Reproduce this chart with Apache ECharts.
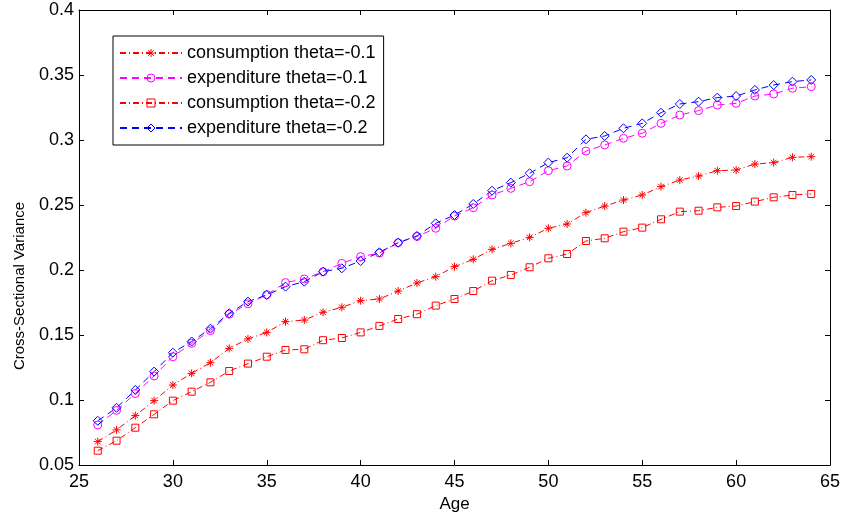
<!DOCTYPE html>
<html>
<head>
<meta charset="utf-8">
<script src="https://cdn.jsdelivr.net/npm/echarts@6/dist/echarts.min.js"></script>
<style>
html,body{margin:0;padding:0;background:#fff;}
#c{width:844px;height:521px;}
</style>
</head>
<body>
<div id="c"></div>
<script>
var ages = [26,27,28,29,30,31,32,33,34,35,36,37,38,39,40,41,42,43,44,45,46,47,48,49,50,51,52,53,54,55,56,57,58,59,60,61,62,63,64];
var consumption01 = [0.068,0.077,0.088,0.0995,0.1115,0.1205,0.1287,0.1397,0.147,0.152,0.1603,0.1615,0.1675,0.1713,0.1764,0.1777,0.1838,0.19,0.1949,0.2026,0.2082,0.2159,0.2205,0.2251,0.2321,0.2354,0.2441,0.2492,0.2538,0.2577,0.2641,0.2692,0.2723,0.2764,0.2769,0.2815,0.2826,0.2867,0.2872];
var expenditure01 = [0.0808,0.092,0.105,0.1185,0.1333,0.1436,0.1533,0.166,0.174,0.181,0.1903,0.1931,0.1987,0.2051,0.2103,0.213,0.221,0.2258,0.2321,0.2415,0.2479,0.2577,0.2628,0.2679,0.2764,0.28,0.2915,0.2962,0.3013,0.3052,0.3128,0.3192,0.3226,0.3269,0.3282,0.3338,0.3354,0.3398,0.341];
var consumption02 = [0.061,0.0687,0.0787,0.089,0.0995,0.1064,0.1136,0.1223,0.128,0.1333,0.1385,0.139,0.146,0.1477,0.152,0.157,0.1623,0.166,0.1726,0.1777,0.1838,0.1918,0.1962,0.2021,0.209,0.2123,0.2223,0.2244,0.2295,0.2326,0.239,0.2449,0.2456,0.2482,0.2492,0.2526,0.2559,0.2577,0.2585];
var expenditure02 = [0.084,0.094,0.1077,0.1218,0.1364,0.145,0.1549,0.1667,0.1757,0.1808,0.1872,0.191,0.1987,0.2013,0.2069,0.2136,0.221,0.2262,0.2359,0.2423,0.2508,0.261,0.2672,0.2744,0.2826,0.2864,0.3005,0.3031,0.309,0.3128,0.321,0.3277,0.3295,0.3326,0.3338,0.3385,0.3423,0.3449,0.3462];
var seriesNames = ['consumption theta=-0.1','expenditure theta=-0.1','consumption theta=-0.2','expenditure theta=-0.2'];
var xLabel = 'Age';
var yLabel = 'Cross-Sectional Variance';

function pairs(vals){ return ages.map(function(a,i){ return [a, vals[i]]; }); }

var FONT = '"Liberation Sans", Arial, Helvetica, sans-serif';
var starPath = 'path://M0,-10L0,10M-10,0L10,0M-7,-7L7,7M-7,7L7,-7';
var dashDot = [6,3,1,3];
var dashed = [7,5];

function mk(name, vals, color, symbol, size, dash, filled){
  return {
    name: name, type: 'line', data: pairs(vals),
    symbol: symbol, symbolSize: size, showSymbol: true,
    lineStyle: {color: color, width: 1, type: dash},
    itemStyle: {color: filled ? color : 'rgba(255,255,255,0)', borderColor: color, borderWidth: 1},
    emphasis: {disabled: true},
    animation: false
  };
}

var chart = echarts.init(document.getElementById('c'), null, {renderer: 'canvas'});
var axisCommon = {
  axisLine: {show: true, lineStyle: {color: '#000', width: 1}},
  axisTick: {show: true, inside: true, length: 5, lineStyle: {color: '#000'}},
  splitLine: {show: false}
};
chart.setOption({
  backgroundColor: '#fff',
  animation: false,
  grid: {left: 79, top: 10, right: 14, bottom: 56, containLabel: false},
  legend: {
    orient: 'vertical', left: 113, top: 36,
    data: seriesNames,
    backgroundColor: '#fff', borderColor: '#000', borderWidth: 1, borderRadius: 0,
    padding: [7, 8, 7, 6], itemGap: 5, itemWidth: 62, itemHeight: 10,
    itemStyle: {borderWidth: 1},
    textStyle: {fontFamily: FONT, fontSize: 18, lineHeight: 20, color: '#000'}
  },
  graphic: [{
    type: 'text', x: 20, y: 286, rotation: Math.PI / 2, silent: true,
    style: {text: yLabel, fontFamily: FONT, fontSize: 15, fill: '#000',
      align: 'center', verticalAlign: 'middle', textAlign: 'center', textVerticalAlign: 'middle'}
  }],
  xAxis: [
    Object.assign({type: 'value', min: 25, max: 65, interval: 5, position: 'bottom',
      name: xLabel, nameLocation: 'middle', nameGap: 27,
      nameTextStyle: {fontFamily: FONT, fontSize: 17, color: '#000'},
      axisLabel: {fontFamily: FONT, fontSize: 18, color: '#000', margin: 8}}, axisCommon),
    Object.assign({type: 'value', min: 25, max: 65, interval: 5, position: 'top',
      axisLabel: {show: false}}, axisCommon)
  ],
  yAxis: [
    Object.assign({type: 'value', min: 0.05, max: 0.4, interval: 0.05, position: 'left',
      axisLabel: {fontFamily: FONT, fontSize: 18, color: '#000', margin: 5,
        formatter: function(v){ return String(+v.toFixed(2)); }}}, axisCommon),
    Object.assign({type: 'value', min: 0.05, max: 0.4, interval: 0.05, position: 'right',
      axisLabel: {show: false}}, axisCommon)
  ],
  series: [
    mk(seriesNames[0], consumption01, '#ff0000', starPath, 8, dashDot, true),
    mk(seriesNames[1], expenditure01, '#ff00ff', 'circle', 8, dashed, false),
    mk(seriesNames[2], consumption02, '#ff0000', 'rect', 7, dashDot, false),
    mk(seriesNames[3], expenditure02, '#0000ff', 'diamond', 9, dashed, false)
  ]
});
</script>
</body>
</html>
